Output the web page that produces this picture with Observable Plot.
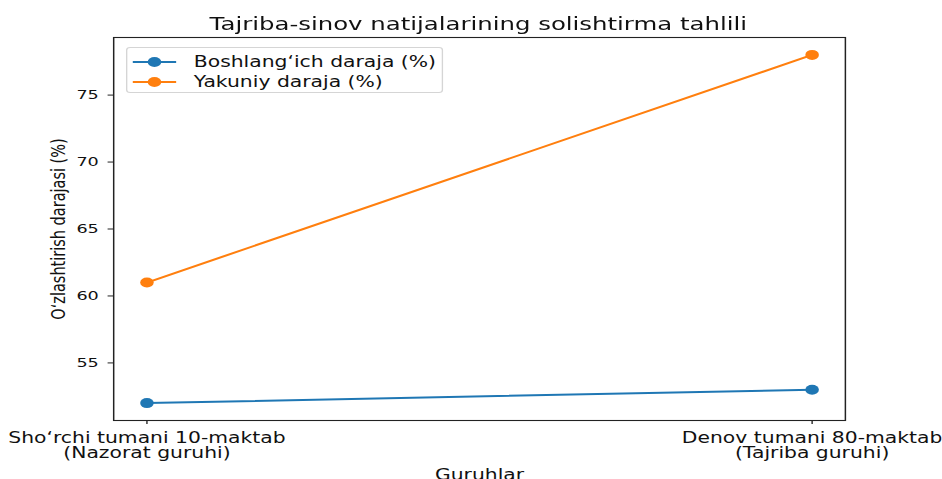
<!DOCTYPE html>
<html>
<head>
<meta charset="utf-8">
<script src="https://cdn.jsdelivr.net/npm/d3@7"></script>
<script src="https://cdn.jsdelivr.net/npm/@observablehq/plot@0.6"></script>
<style>
  html, body { margin: 0; padding: 0; background: #fff; overflow: hidden; }
  #wrap { position: relative; width: 695px; height: 479px; font-family: "DejaVu Sans", sans-serif; transform: scaleX(1.355); transform-origin: 0 0; }
  #title { position: absolute; left: 0; width: 706px; top: 13px; text-align: center; font-size: 18px; color: #111; }
  #legend { position: absolute; left: 93px; top: 47px; width: 234px; height: 46px; border: 1px solid #d5d5d5; border-radius: 3px; background: rgba(255,255,255,0.85); box-sizing: border-box; font-size: 15px; color: #111; }
  .row { position: absolute; left: 0; height: 20px; display: flex; align-items: center; }
  .sw { position: relative; width: 32px; height: 20px; margin-left: 4px; margin-right: 13px; }
  .sw .ln { position: absolute; left: 0; right: 0; top: 9px; height: 2px; }
  .sw .dt { position: absolute; left: 11px; top: 5px; width: 10px; height: 10px; border-radius: 50%; }
  #chart { position: absolute; left: 0; top: 0; }
</style>
</head>
<body>
<div id="wrap">
  <div id="chart"></div>
  <div id="title"></div>
  <div id="legend"></div>
</div>
<script>
const title = "Tajriba-sinov natijalarining solishtirma tahlili";
const categories = ["Sho‘rchi tumani 10-maktab\n(Nazorat guruhi)", "Denov tumani 80-maktab\n(Tajriba guruhi)"];
const seriesNames = ["Boshlang‘ich daraja (%)", "Yakuniy daraja (%)"];
const boshlangich = [52, 53];
const yakuniy = [61, 78];
const colors = ["#1f77b4", "#ff7f0e"];
const yTicks = [55, 60, 65, 70, 75];
const xLabel = "Guruhlar";
const yLabel = "O‘zlashtirish darajasi (%)";

const data = [];
[boshlangich, yakuniy].forEach((vals, s) => {
  vals.forEach((v, i) => data.push({ series: seriesNames[s], idx: i, value: v }));
});

const allVals = boshlangich.concat(yakuniy);
const yMin = d3.min(allVals), yMax = d3.max(allVals);
const yPad = (yMax - yMin) * 0.05;
const xPad = (categories.length - 1) * 0.05;

const chart = Plot.plot({
  width: 695,
  height: 479,
  marginLeft: 83.4,
  marginRight: 71.6,
  marginTop: 37,
  marginBottom: 59,
  style: { fontFamily: "DejaVu Sans, sans-serif", fontSize: "15px", color: "#111", background: "#fff" },
  x: { type: "linear", domain: [-xPad, categories.length - 1 + xPad] },
  y: { domain: [yMin - yPad, yMax + yPad] },
  color: { domain: seriesNames, range: colors },
  marks: [
    Plot.frame({ stroke: "#222", strokeWidth: 1.1 }),
    Plot.axisX({ ticks: d3.range(categories.length), tickFormat: i => categories[i], tickSize: 4, tickPadding: 8, fontSize: 15, label: xLabel, labelAnchor: "center", labelOffset: 59, labelArrow: "none", stroke: "#222" }),
    Plot.axisY({ ticks: yTicks, tickSize: 4, tickPadding: 7, fontSize: 13, label: yLabel, labelAnchor: "center", labelOffset: 46, labelArrow: "none", stroke: "#222" }),
    Plot.line(data, { x: "idx", y: "value", z: "series", stroke: "series", strokeWidth: 2 }),
    Plot.dot(data, { x: "idx", y: "value", fill: "series", r: 5 })
  ]
});
chart.querySelectorAll("g[aria-label='y-axis label'] text").forEach(t => t.setAttribute("font-size", "14.5"));
document.getElementById("chart").appendChild(chart);
document.getElementById("title").textContent = title;

const legend = document.getElementById("legend");
seriesNames.forEach((name, i) => {
  const row = document.createElement("div");
  row.className = "row";
  row.style.top = (4 + i * 20) + "px";
  row.innerHTML = `<div class="sw"><div class="ln" style="background:${colors[i]}"></div><div class="dt" style="background:${colors[i]}"></div></div><span>${name}</span>`;
  legend.appendChild(row);
});
</script>
</body>
</html>
